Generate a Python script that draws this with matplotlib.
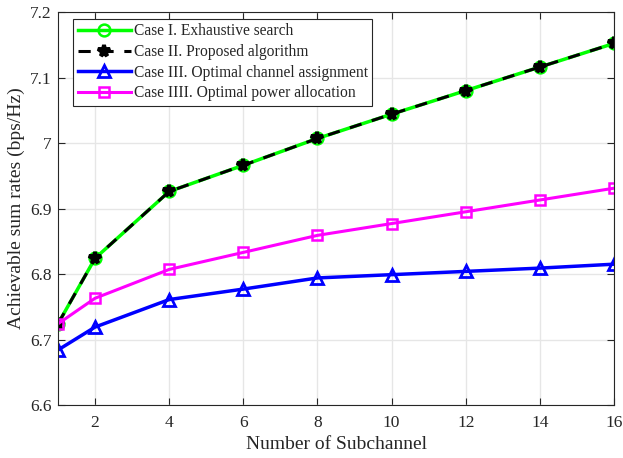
import numpy as np
import matplotlib
matplotlib.use('Agg')
import matplotlib.pyplot as plt

plt.rcParams['font.family'] = ['Liberation Serif', 'DejaVu Serif']
plt.rcParams['text.color'] = '#262626'
plt.rcParams['axes.labelcolor'] = '#262626'
plt.rcParams['xtick.color'] = '#262626'
plt.rcParams['ytick.color'] = '#262626'

subchannels = [1, 2, 4, 6, 8, 10, 12, 14, 16]
exhaustive = [6.724, 6.824, 6.926, 6.966, 7.007, 7.044, 7.080, 7.116, 7.152]
proposed = [6.724, 6.824, 6.926, 6.966, 7.007, 7.044, 7.080, 7.116, 7.152]
opt_channel = [6.684, 6.719, 6.761, 6.777, 6.794, 6.799, 6.804, 6.809, 6.815]
opt_power = [6.724, 6.763, 6.807, 6.833, 6.859, 6.877, 6.895, 6.913, 6.931]

labels = ['Case I. Exhaustive search', 'Case II. Proposed algorithm',
          'Case III. Optimal channel assignment', 'Case IIII. Optimal power allocation']


def main():
    fig = plt.figure(figsize=(6.23, 4.58), dpi=100)
    ax = fig.add_axes([0.0931, 0.1157, 0.8925, 0.8581])

    ax.plot(subchannels, exhaustive, color='#00ff00', lw=2.5, marker='o',
            ms=8.5, mfc='none', mec='#00ff00', mew=1.8, label=labels[0])
    ax.plot(subchannels, proposed, color='black', lw=2.2, ls=(0, (4, 3.5)), marker='*',
            ms=8.5, mfc='black', mec='black', mew=2.8, label=labels[1])
    ax.plot(subchannels, opt_channel, color='#0000ff', lw=2.5, marker='^',
            ms=9, mfc='none', mec='#0000ff', mew=2, label=labels[2])
    ax.plot(subchannels, opt_power, color='#ff00ff', lw=2.2, marker='s',
            ms=7, mfc='none', mec='#ff00ff', mew=1.8, label=labels[3])

    ax.set_xlim(1, 16)
    ax.set_ylim(6.6, 7.2)
    ax.set_xticks(range(2, 17, 2))
    ax.set_yticks(np.arange(6.6, 7.21, 0.1))
    ax.set_yticklabels(['6.6', '6.7', '6.8', '6.9', '7', '7.1', '7.2'])
    ax.grid(True, color='#e6e6e6', lw=1)
    ax.set_axisbelow(True)
    ax.tick_params(direction='in', top=True, right=True, labelsize=12.5, length=5)
    ax.tick_params(axis='x', pad=7)
    ax.tick_params(axis='y', pad=4.5)
    for s in ax.spines.values():
        s.set_color('#262626')
    ax.set_xlabel('Number of Subchannel', fontsize=14, labelpad=4)
    ax.set_ylabel('Achievable sum rates (bps/Hz)', fontsize=14, labelpad=4)

    leg = ax.legend(loc='upper left', bbox_to_anchor=(0.027, 0.983), fontsize=11.2,
                    fancybox=False, edgecolor='#262626', framealpha=1,
                    handlelength=3.4, handletextpad=0.2, borderpad=0.3,
                    labelspacing=0.3, borderaxespad=0)
    leg.get_frame().set_linewidth(0.8)

    fig.savefig('out.png', dpi=100)


if __name__ == '__main__':
    main()
